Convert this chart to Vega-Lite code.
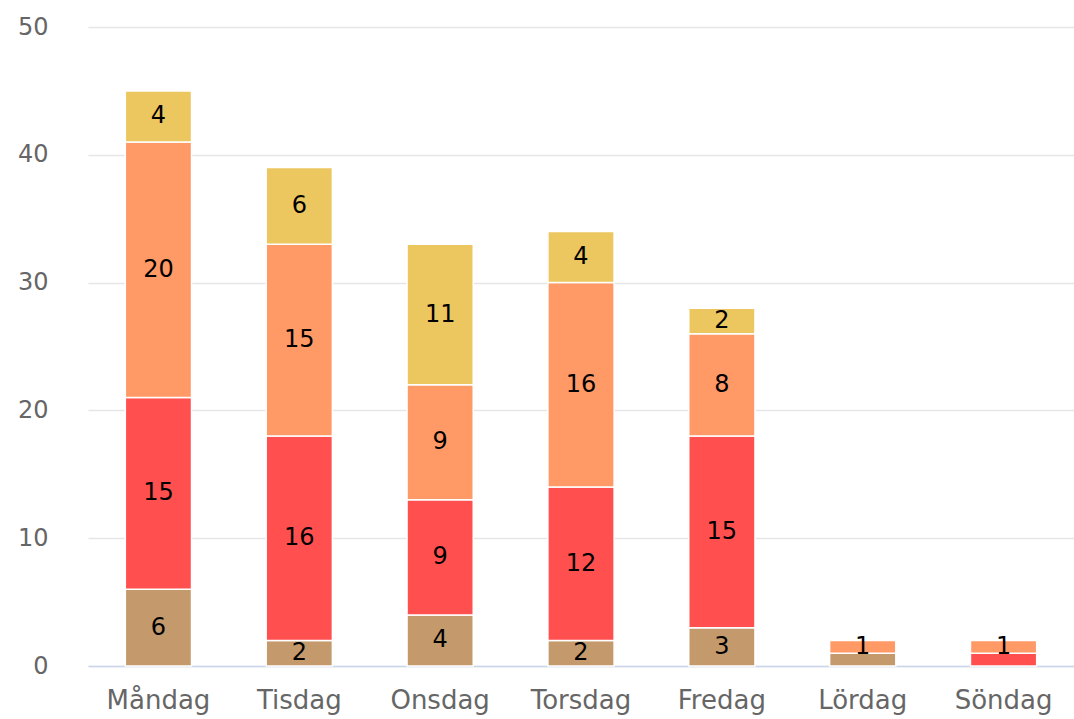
{
  "$schema": "https://vega.github.io/schema/vega-lite/v6.json",
  "width": 986,
  "height": 639,
  "autosize": {"type": "none"},
  "padding": {"left": 88, "top": 27, "right": 0, "bottom": 53},
  "background": "white",
  "config": {"view": {"stroke": null}, "font": "DejaVu Sans"},
  "data": {
    "values": [
      {"day": "Måndag", "series": "Serie 1", "value": 6},
      {"day": "Måndag", "series": "Serie 2", "value": 15},
      {"day": "Måndag", "series": "Serie 3", "value": 20},
      {"day": "Måndag", "series": "Serie 4", "value": 4},
      {"day": "Tisdag", "series": "Serie 1", "value": 2},
      {"day": "Tisdag", "series": "Serie 2", "value": 16},
      {"day": "Tisdag", "series": "Serie 3", "value": 15},
      {"day": "Tisdag", "series": "Serie 4", "value": 6},
      {"day": "Onsdag", "series": "Serie 1", "value": 4},
      {"day": "Onsdag", "series": "Serie 2", "value": 9},
      {"day": "Onsdag", "series": "Serie 3", "value": 9},
      {"day": "Onsdag", "series": "Serie 4", "value": 11},
      {"day": "Torsdag", "series": "Serie 1", "value": 2},
      {"day": "Torsdag", "series": "Serie 2", "value": 12},
      {"day": "Torsdag", "series": "Serie 3", "value": 16},
      {"day": "Torsdag", "series": "Serie 4", "value": 4},
      {"day": "Fredag", "series": "Serie 1", "value": 3},
      {"day": "Fredag", "series": "Serie 2", "value": 15},
      {"day": "Fredag", "series": "Serie 3", "value": 8},
      {"day": "Fredag", "series": "Serie 4", "value": 2},
      {"day": "Lördag", "series": "Serie 1", "value": 1},
      {"day": "Lördag", "series": "Serie 3", "value": 1},
      {"day": "Söndag", "series": "Serie 2", "value": 1},
      {"day": "Söndag", "series": "Serie 3", "value": 1}
    ]
  },
  "encoding": {
    "x": {
      "field": "day",
      "type": "nominal",
      "sort": ["Måndag", "Tisdag", "Onsdag", "Torsdag", "Fredag", "Lördag", "Söndag"],
      "scale": {"paddingInner": 0.53, "paddingOuter": 0.265},
      "axis": {
        "title": null,
        "labelAngle": 0,
        "ticks": false,
        "grid": false,
        "domainColor": "#ccd6eb",
        "domainWidth": 1.5,
        "labelColor": "#666666",
        "labelFontSize": 26,
        "labelPadding": 21,
        "labelFont": "DejaVu Sans"
      }
    }
  },
  "layer": [
    {
      "mark": {"type": "bar", "stroke": "white", "strokeWidth": 1.5},
      "encoding": {
        "y": {
          "field": "value",
          "type": "quantitative",
          "stack": "zero",
          "scale": {"domain": [0, 50]},
          "axis": {
            "title": null,
            "values": [0, 10, 20, 30, 40, 50],
            "domain": false,
            "ticks": false,
            "gridColor": "#e6e6e6",
            "gridWidth": 1.5,
            "labelColor": "#666666",
            "labelFontSize": 24,
            "labelPadding": 40,
            "labelFont": "DejaVu Sans"
          }
        },
        "color": {
          "field": "series",
          "type": "nominal",
          "scale": {
            "domain": ["Serie 1", "Serie 2", "Serie 3", "Serie 4"],
            "range": ["#C49A6C", "#FF4F4F", "#FF9966", "#ECC75F"]
          },
          "legend": null
        },
        "order": {"field": "series", "sort": "ascending"}
      }
    },
    {
      "transform": [
        {"stack": "value", "groupby": ["day"], "sort": [{"field": "series", "order": "ascending"}], "as": ["v0", "v1"]},
        {"filter": "!(datum.day == 'Lördag' && datum.series == 'Serie 1') && !(datum.day == 'Söndag' && datum.series == 'Serie 2')"},
        {"calculate": "(datum.v0 + datum.v1) / 2", "as": "mid"}
      ],
      "mark": {"type": "text", "fontSize": 24, "color": "#000000", "baseline": "middle", "align": "center", "font": "DejaVu Sans"},
      "encoding": {
        "y": {"field": "mid", "type": "quantitative"},
        "text": {"field": "value", "type": "quantitative"}
      }
    }
  ]
}
